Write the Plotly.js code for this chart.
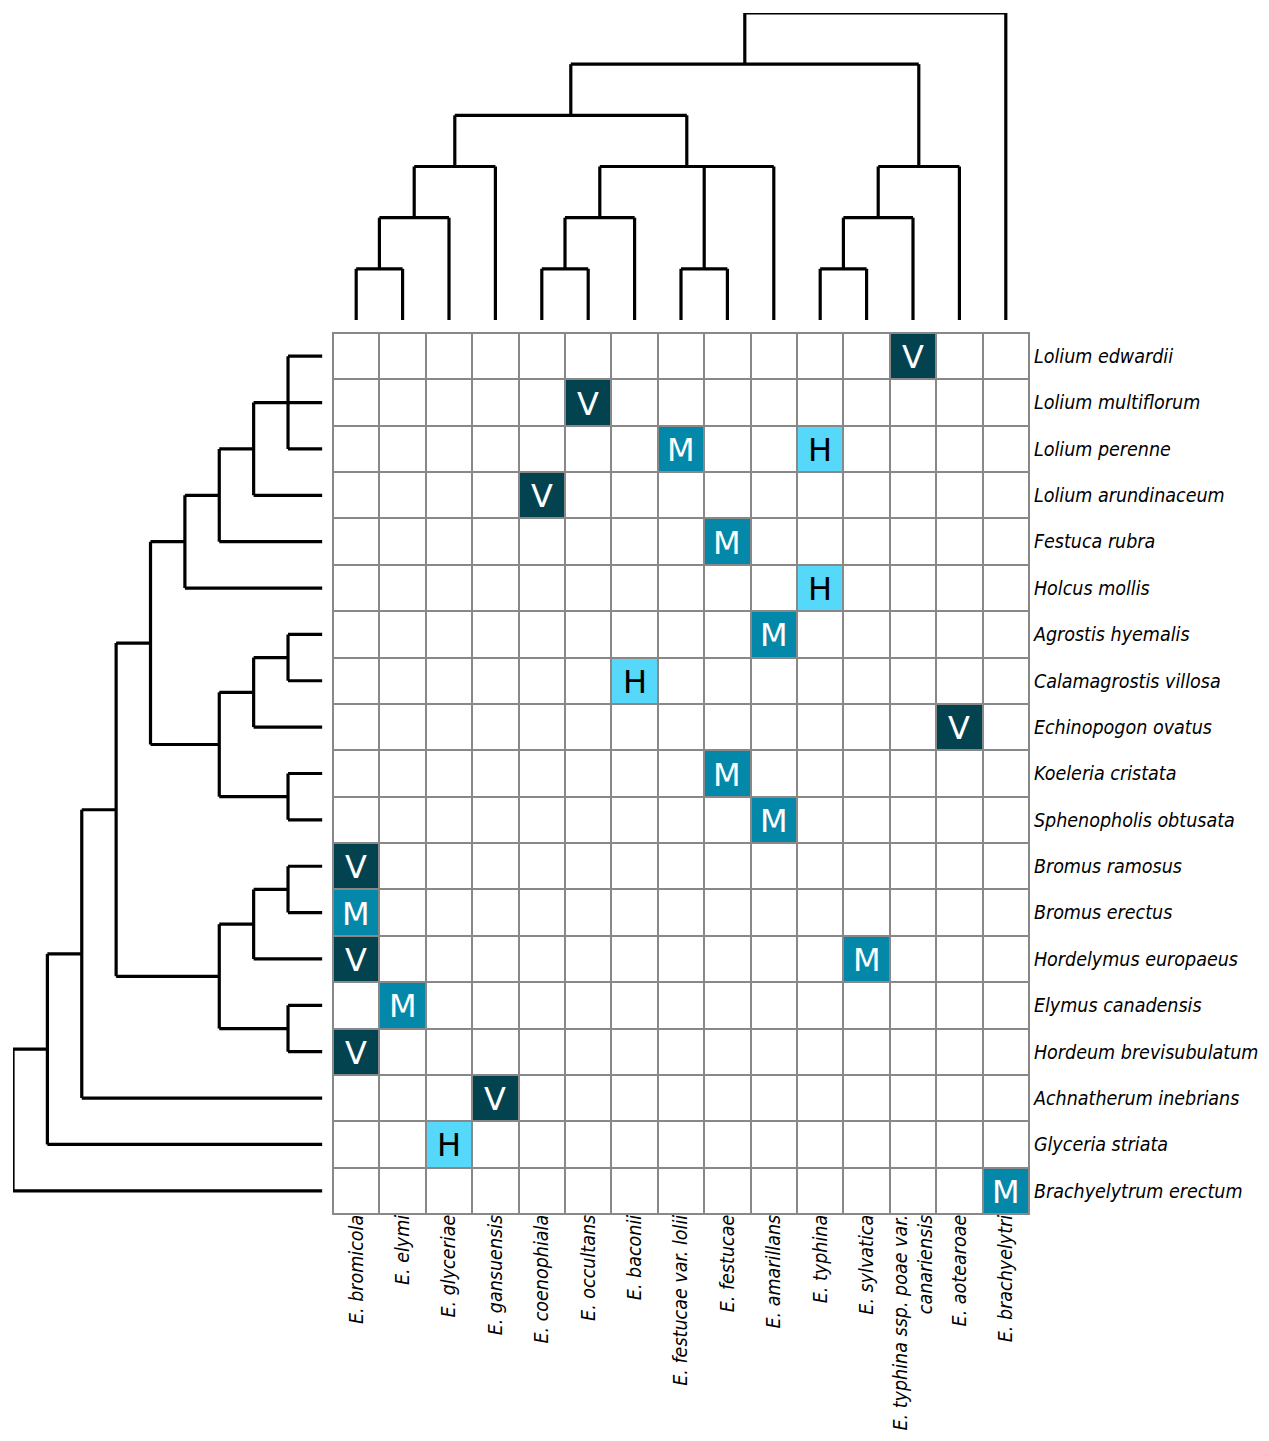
<!DOCTYPE html>
<html>
<head>
<meta charset="utf-8">
<script src="https://cdn.plot.ly/plotly-3.0.1.min.js"></script>
<style>html,body{margin:0;padding:0;background:#fff;}#chart{width:1269px;height:1441px;}</style>
</head>
<body>
<div id="chart"></div>
<script>
// ---------- data ----------
const colLabels = [
  "E. bromicola", "E. elymi", "E. glyceriae", "E. gansuensis", "E. coenophiala",
  "E. occultans", "E. baconii", "E. festucae var. lolii", "E. festucae", "E. amarillans",
  "E. typhina", "E. sylvatica", "E. typhina ssp. poae var.<br>canariensis", "E. aotearoae", "E. brachyelytri"
];
const rowLabels = [
  "Lolium edwardii", "Lolium multiflorum", "Lolium perenne", "Lolium arundinaceum",
  "Festuca rubra", "Holcus mollis", "Agrostis hyemalis", "Calamagrostis villosa",
  "Echinopogon ovatus", "Koeleria cristata", "Sphenopholis obtusata", "Bromus ramosus",
  "Bromus erectus", "Hordelymus europaeus", "Elymus canadensis", "Hordeum brevisubulatum",
  "Achnatherum inebrians", "Glyceria striata", "Brachyelytrum erectum"
];
// one string per row, one character per column ('.' = no association)
const matrixRows = [
  "............V..",
  ".....V.........",
  ".......M..H....",
  "....V..........",
  "........M......",
  "..........H....",
  ".........M.....",
  "......H........",
  ".............V.",
  "........M......",
  ".........M.....",
  "V..............",
  "M..............",
  "V..........M...",
  ".M.............",
  "V..............",
  "...V...........",
  "..H............",
  "..............M"
];
const categoryCodes = ["H", "M", "V"];
const categoryColors = ["#55d8fa", "#0488aa", "#03434f"];
const categoryTextColors = ["#000000", "#ffffff", "#ffffff"];

// dendrograms: [height, child, child, ...]; leaves are column / row indices
const colTree = [6,
  [5,
    [4,
      [3, [2, [1, 0, 1], 2], 3],
      [3, [2, [1, 4, 5], 6], [1, 7, 8], 9]
    ],
    [3, [2, [1, 10, 11], 12], 13]
  ],
  14
];
const rowTree = [9,
  [8,
    [7,
      [6,
        [5,
          [4, [3, [2, [1, 0, 1, 2], 3], 4], 5],
          [3, [2, [1, 6, 7], 8], [1, 9, 10]]
        ],
        [3, [2, [1, 11, 12], 13], [1, 14, 15]]
      ],
      16
    ],
    17
  ],
  18
];

// ---------- build ----------
const W = 1269, H = 1441;
const labelFont = {family: "'DejaVu Sans Condensed', 'DejaVu Sans', sans-serif", size: 19.5, color: "#000", style: "italic"};

const z = matrixRows.map(r => r.split("").map(c => categoryCodes.indexOf(c) + 1));

function dendro(node, segA, segB) {
  if (typeof node === "number") return {pos: node, h: 0};
  const h = node[0];
  const kids = node.slice(1).map(k => dendro(k, segA, segB));
  kids.forEach(k => { segA.push(k.pos, k.pos, null); segB.push(k.h, h, null); });
  const ps = kids.map(k => k.pos);
  const lo = Math.min(...ps), hi = Math.max(...ps);
  segA.push(lo, hi, null); segB.push(h, h, null);
  return {pos: (lo + hi) / 2, h: h};
}
const topPos = [], topH = [];
dendro(colTree, topPos, topH);
const leftPos = [], leftH = [];
dendro(rowTree, leftPos, leftH);

const traces = [];
traces.push({
  type: "heatmap",
  z: z,
  x: colLabels.map((_, i) => i),
  y: rowLabels.map((_, i) => i),
  zmin: 0, zmax: 3,
  colorscale: [[0, "#ffffff"], [1/3, categoryColors[0]], [2/3, categoryColors[1]], [1, categoryColors[2]]],
  showscale: false,
  xgap: 2, ygap: 2,
  hoverinfo: "skip",
  xaxis: "x", yaxis: "y"
});
traces.push({
  type: "scatter", mode: "lines", x: topPos, y: topH,
  line: {color: "#000", width: 3.2}, hoverinfo: "skip", showlegend: false,
  xaxis: "x2", yaxis: "y2"
});
traces.push({
  type: "scatter", mode: "lines", x: leftH, y: leftPos,
  line: {color: "#000", width: 3.2}, hoverinfo: "skip", showlegend: false,
  xaxis: "x3", yaxis: "y3"
});

const annotations = [];
matrixRows.forEach((r, ri) => r.split("").forEach((c, cj) => {
  const ci = categoryCodes.indexOf(c);
  if (ci < 0) return;
  annotations.push({
    x: cj, y: ri, xref: "x", yref: "y", text: c, showarrow: false,
    font: {family: "'DejaVu Sans', sans-serif", size: 32, color: categoryTextColors[ci]},
    xanchor: "center", yanchor: "middle", yshift: -1
  });
}));

const gx0 = 333, gx1 = 1029, gy0 = 333, gy1 = 1214;
const hidden = {showgrid: false, zeroline: false, showticklabels: false, ticks: "", showline: false};

const layout = {
  width: W, height: H,
  margin: {l: 0, r: 0, t: 0, b: 0},
  paper_bgcolor: "#ffffff",
  plot_bgcolor: "#ffffff",
  showlegend: false,
  annotations: annotations,
  shapes: [{
    type: "rect", xref: "x domain", yref: "y domain", x0: 0, x1: 1, y0: 0, y1: 1,
    fillcolor: "#888888", line: {width: 0}, layer: "below"
  }],
  xaxis: {
    domain: [gx0 / W, gx1 / W], range: [-0.5, colLabels.length - 0.5],
    tickvals: colLabels.map((_, i) => i), ticktext: colLabels,
    tickangle: -90, side: "bottom", ticks: "", showgrid: false, zeroline: false,
    showline: true, linecolor: "#888888", linewidth: 1, mirror: true,
    tickfont: labelFont, anchor: "y", fixedrange: true, ticklabelstandoff: -8
  },
  yaxis: {
    domain: [1 - gy1 / H, 1 - gy0 / H], range: [rowLabels.length - 0.5, -0.5],
    tickvals: rowLabels.map((_, i) => i), ticktext: rowLabels,
    side: "right", ticks: "", showgrid: false, zeroline: false,
    showline: true, linecolor: "#888888", linewidth: 1, mirror: true,
    tickfont: labelFont, anchor: "x", fixedrange: true
  },
  xaxis2: Object.assign({domain: [gx0 / W, gx1 / W], range: [-0.5, colLabels.length - 0.5], anchor: "y2"}, hidden),
  yaxis2: Object.assign({domain: [1 - 320 / H, 1 - 13 / H], range: [0, 6], anchor: "x2"}, hidden),
  xaxis3: Object.assign({domain: [13 / W, 322.4 / W], range: [9, 0], anchor: "y3"}, hidden),
  yaxis3: Object.assign({domain: [1 - gy1 / H, 1 - gy0 / H], range: [rowLabels.length - 0.5, -0.5], anchor: "x3"}, hidden)
};

Plotly.newPlot("chart", traces, layout, {displayModeBar: false, staticPlot: true});
</script>
</body>
</html>
